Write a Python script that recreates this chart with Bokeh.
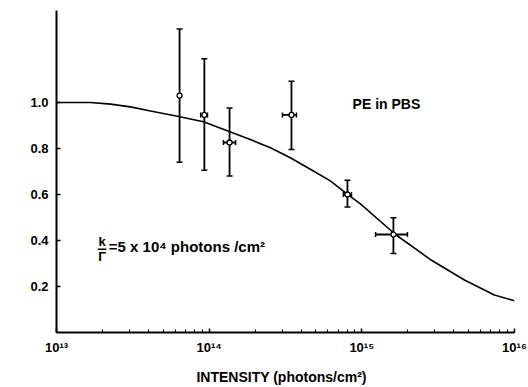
from bokeh.plotting import figure
from bokeh.models import (ColumnDataSource, Whisker, TeeHead, FixedTicker, Label)
from bokeh.core.properties import value
from bokeh.embed import file_html
from bokeh.resources import INLINE

# ---- data ----
intensity = [6.4e13, 9.3e13, 1.36e14, 3.46e14, 8.05e14, 1.61e15]
phi = [1.03, 0.946, 0.826, 0.946, 0.600, 0.426]
phi_low = [0.74, 0.705, 0.68, 0.796, 0.546, 0.344]
phi_high = [1.32, 1.19, 0.976, 1.092, 0.662, 0.499]
int_low = [6.4e13, 8.8e13, 1.24e14, 3.02e14, 7.57e14, 1.23e15]
int_high = [6.4e13, 9.75e13, 1.49e14, 3.73e14, 8.55e14, 1.99e15]

curve_intensity = [1e13, 1.24e13, 1.67e13, 2.26e13, 3.05e13, 4.13e13, 6.31e13,
                   9.18e13, 1.38e14, 1.86e14, 2.52e14, 3.40e14, 4.60e14,
                   6.22e14, 8.02e14, 9.79e14, 1.66e15, 2.86e15, 4.70e15,
                   7.38e15, 1e16]
curve_phi = [1.0, 1.0, 1.0, 0.993, 0.981, 0.963, 0.939,
             0.916, 0.872, 0.839, 0.803, 0.760, 0.710,
             0.659, 0.602, 0.559, 0.426, 0.314, 0.228,
             0.163, 0.138]

x_ticks = [1e13, 1e14, 1e15, 1e16]
x_tick_labels = ["10¹³", "10¹⁴", "10¹⁵", "10¹⁶"]
y_ticks = [0.2, 0.4, 0.6, 0.8, 1.0]
y_tick_labels = ["0.2", "0.4", "0.6", "0.8", "1.0"]

FONT = "Liberation Sans"

p = figure(width=528, height=387, x_axis_type="log",
           x_range=(1e13, 1e16), y_range=(0, 1.4),
           output_backend="svg", toolbar_location=None,
           min_border_left=56, min_border_right=14,
           min_border_top=10, min_border_bottom=52)
p.outline_line_color = None
p.grid.visible = False
p.background_fill_color = "white"
p.border_fill_color = "white"

# theory curve
p.line(curve_intensity, curve_phi, line_color="black", line_width=1.6)

# error bars
src = ColumnDataSource(dict(x=intensity, y=phi, ylo=phi_low, yhi=phi_high,
                            xlo=int_low, xhi=int_high))
vw = Whisker(source=src, base="x", lower="ylo", upper="yhi", dimension="height",
             line_color="black", line_width=1.8,
             lower_head=TeeHead(size=6, line_width=1.5),
             upper_head=TeeHead(size=6, line_width=1.5))
hw = Whisker(source=src, base="y", lower="xlo", upper="xhi", dimension="width",
             line_color="black", line_width=1.8,
             lower_head=TeeHead(size=5, line_width=1.5),
             upper_head=TeeHead(size=5, line_width=1.5))
p.add_layout(vw)
p.add_layout(hw)
p.scatter("x", "y", source=src, marker="circle", size=5,
          fill_color="white", line_color="black", line_width=1.3)

# axes
xa = p.xaxis[0]
xa.ticker = FixedTicker(ticks=x_ticks,
                        minor_ticks=[m * 10 ** e for e in (13, 14, 15) for m in range(2, 10)])
xa.major_label_overrides = {t: l for t, l in zip(x_ticks, x_tick_labels)}
xa.axis_label = "INTENSITY   (photons/cm²)"
ya = p.yaxis[0]
ya.ticker = FixedTicker(ticks=y_ticks)
ya.major_label_overrides = {t: l for t, l in zip(y_ticks, y_tick_labels)}

for ax in (xa, ya):
    ax.axis_line_color = "black"
    ax.axis_line_width = 2
    ax.major_tick_in = 4
    ax.major_tick_out = 0
    ax.major_tick_line_width = 1.5
    ax.minor_tick_in = 3
    ax.minor_tick_out = 0
    ax.major_label_text_font = FONT
    ax.major_label_text_font_style = "bold"
    ax.major_label_text_font_size = "13px"
    ax.major_label_text_color = "black"
    ax.axis_label_text_font = FONT
    ax.axis_label_text_font_style = "bold"
    ax.axis_label_text_font_size = "14px"
    ax.axis_label_text_color = "black"
ya.minor_tick_line_color = None
xa.major_label_standoff = 7
xa.axis_label_standoff = 11
ya.major_label_standoff = 8

# texts
p.add_layout(Label(x=8.7e14, y=0.995, text="PE in PBS", text_font=FONT,
                   text_font_size="14px", text_font_style="bold", text_color="black",
                   text_baseline="middle", text_align="left"))
p.add_layout(Label(x=10 ** 12.73, y=0.675, text="Φ", text_font=FONT,
                   text_font_size="15px", text_font_style="bold", text_color="black",
                   text_baseline="middle", text_align="center"))

frac_x = [1.99e13]
p.text(x=frac_x, y=[0.395], text=["k"], text_font=value(FONT),
       text_font_size="13px", text_font_style="bold", text_color="black",
       text_align="center", text_baseline="middle")
p.text(x=frac_x, y=[0.330], text=["Γ"], text_font=value(FONT),
       text_font_size="13px", text_font_style="bold", text_color="black",
       text_align="center", text_baseline="middle")
p.segment(x0=[1.86e13], x1=[2.12e13], y0=[0.362], y1=[0.362],
          line_color="black", line_width=1.5)
p.text(x=[2.2e13], y=[0.372], text=["=5 x 10⁴ photons /cm²"],
       text_font=value(FONT), text_font_size="15px", text_font_style="bold",
       text_color="black", text_align="left", text_baseline="middle")

open("out.html", "w").write(file_html(p, INLINE))
